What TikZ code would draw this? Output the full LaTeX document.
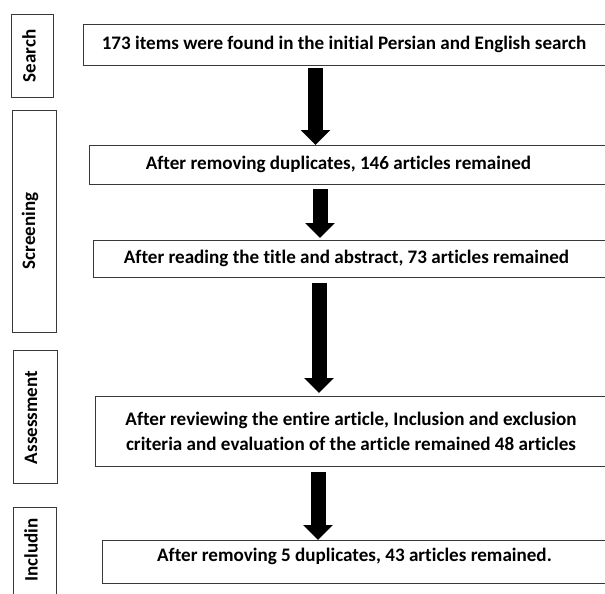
\documentclass[tikz,border=0pt]{standalone}
\usepackage{fontspec}
\setmainfont{Carlito}[Ligatures=NoCommon]
\usetikzlibrary{arrows.meta}
\begin{document}
\begin{tikzpicture}[x=1pt,y=-1pt,
  box/.style={draw=black!78,line width=1.2pt,inner sep=0pt,anchor=north west},
  txt/.style={font=\fontsize{19.1}{25}\selectfont\bfseries,inner sep=0pt,align=center},
  side/.style={font=\fontsize{19}{23}\selectfont\bfseries,inner sep=0pt,rotate=90},
  flow/.style={line width=15pt,-{Triangle[width=29pt,length=15pt]}}]
\useasboundingbox (0,0) rectangle (605,594);
\clip (0,0) rectangle (605,594);
% side boxes
\node[box,minimum width=42pt,minimum height=83pt] (s1) at (11,14) {};
\node[box,minimum width=44pt,minimum height=222pt] (s2) at (12,110) {};
\node[box,minimum width=44pt,minimum height=133pt] (s3) at (13,350) {};
\node[box,minimum width=43pt,minimum height=113pt] (s4) at (13,507) {};
\node[side] (l1) at (29,56) {Search};
\node[side] (l2) at (30,231) {Screening};
\node[side] (l3) at (31,417.5) {Assessment};
\node[side] (l4) at (31,550) {Includin};
% main boxes
\node[box,minimum width=532pt,minimum height=41pt] (b1) at (83,24) {};
\node[box,minimum width=526pt,minimum height=39pt] (b2) at (89,145) {};
\node[box,minimum width=522pt,minimum height=37pt] (b3) at (93,240) {};
\node[box,minimum width=520pt,minimum height=70pt] (b4) at (95,396) {};
\node[box,minimum width=513pt,minimum height=43pt] (b5) at (102,540) {};
\node[txt] (t1) at (344,44) {173 items were found in the initial Persian and English search};
\node[txt] (t2) at (338.5,164.5) {After removing duplicates, 146 articles remained};
\node[txt] (t3) at (346.5,258) {After reading the title and abstract, 73 articles remained};
\node[txt] (t4) at (351,431) {After reviewing the entire article, Inclusion and exclusion\\criteria and evaluation of the article remained 48 articles};
\node[txt] (t5) at (354.5,556) {After removing 5 duplicates, 43 articles remained.};
% arrows
\coordinate (a1) at (315.5,0);
\coordinate (a2) at (320,0);
\coordinate (a3) at (319,0);
\coordinate (a4) at (318,0);
\draw[flow,shorten <=2pt] (b1.south -| a1) -- (b2.north -| a1);
\draw[flow,shorten <=4pt,shorten >=2pt] (b2.south -| a2) -- (b3.north -| a2);
\draw[flow,shorten <=5pt,shorten >=3pt] (b3.south -| a3) -- (b4.north -| a3);
\draw[flow,shorten <=5pt] (b4.south -| a4) -- (b5.north -| a4);
\end{tikzpicture}
\end{document}
